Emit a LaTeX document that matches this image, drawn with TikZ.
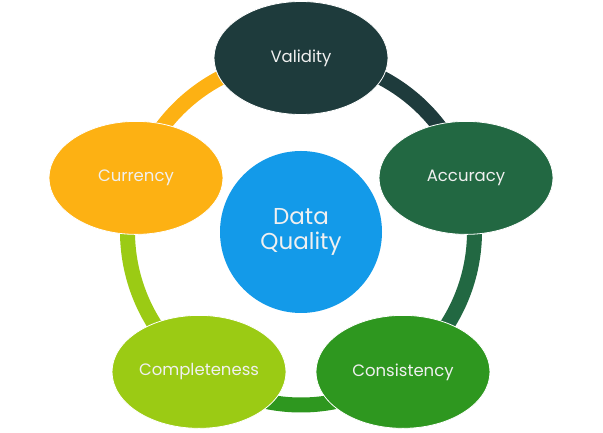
\documentclass[tikz,border=0pt]{standalone}
\usepackage{fontspec}
\setmainfont{Poppins}
\usetikzlibrary{shapes.geometric}
\definecolor{cval}{HTML}{1E3B3C}
\definecolor{cacc}{HTML}{226842}
\definecolor{ccon}{HTML}{2E971F}
\definecolor{ccom}{HTML}{9BCB14}
\definecolor{ccur}{HTML}{FDB113}
\definecolor{cdq}{HTML}{139AE9}
\tikzset{
  dim/.style={ellipse, draw=white, line width=0.8pt, minimum width=174pt, minimum height=113pt,
    inner sep=0pt, text=white!94!black, font=\fontsize{16.5}{19}\selectfont},
  ring/.style={line width=15pt},
  hub/.style={circle, fill=cdq, minimum size=162pt, inner sep=0pt, align=center,
    text=white!94!black, font=\fontsize{23}{27}\selectfont}
}
\begin{document}
\begin{tikzpicture}[x=1pt,y=1pt]
\useasboundingbox (0,0) rectangle (603,433);
\coordinate (c) at (301,201.5);
\path (c) ++(90:173.5) coordinate (pval)
      (c) ++(18:173.5) coordinate (pacc)
      (c) ++(-54:173.5) coordinate (pcon)
      (c) ++(-126:173.5) coordinate (pcom)
      (c) ++(162:173.5) coordinate (pcur);
\draw[ring, cval] (pval) arc[start angle=90, end angle=18, radius=173.5];
\draw[ring, cacc] (pacc) arc[start angle=18, end angle=-54, radius=173.5];
\draw[ring, ccon] (pcon) arc[start angle=-54, end angle=-126, radius=173.5];
\draw[ring, ccom] (pcom) arc[start angle=-126, end angle=-198, radius=173.5];
\draw[ring, ccur] (pcur) arc[start angle=162, end angle=90, radius=173.5];
\node[dim, fill=cval] (val) at (pval) {Validity};
\node[dim, fill=cacc] (acc) at (pacc) {Accuracy};
\node[dim, fill=ccon] (con) at (pcon) {Consistency};
\node[dim, fill=ccom] (com) at (pcom) {Completeness};
\node[dim, fill=ccur] (cur) at (pcur) {Currency};
\node[hub] (dq) at (301,201) {Data\\[-2pt]Quality};
\end{tikzpicture}
\end{document}
